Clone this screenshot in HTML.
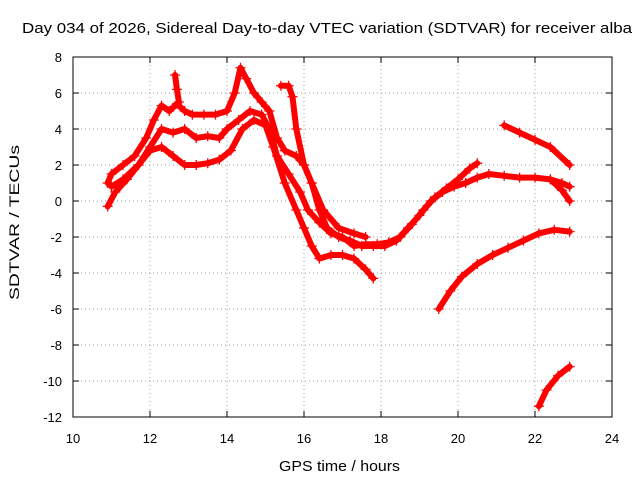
<!DOCTYPE html>
<html><head><meta charset="utf-8"><style>
body{margin:0;background:#fff;}
svg{display:block;font-family:"Liberation Sans",sans-serif;}
</style></head><body>
<svg id="chart" width="640" height="480">
<text x="22" y="33" font-size="15" textLength="610" lengthAdjust="spacingAndGlyphs">Day 034 of 2026, Sidereal Day-to-day VTEC variation (SDTVAR) for receiver alba</text>
<text x="279" y="471" font-size="15" textLength="121" lengthAdjust="spacingAndGlyphs">GPS time / hours</text>
<text x="0" y="0" font-size="14" textLength="155" lengthAdjust="spacingAndGlyphs" transform="translate(19 300) rotate(-90)">SDTVAR / TECUs</text>
<g id="grid"></g><g id="ticks"></g><g id="series"></g>
<rect x="73" y="57" width="539" height="360" fill="none" stroke="#000" stroke-width="1"/>
</svg>
<script>
const xTicks=[10,12,14,16,18,20,22,24];
const yTicks=[8,6,4,2,0,-2,-4,-6,-8,-10,-12];
const trackA_t=[10.9,11.0,11.3,11.6,11.9,12.1,12.3,12.5,12.7,12.9,13.1,13.4,13.7,14.0,14.2,14.35,14.5,14.7,14.9,15.1,15.3,15.5,15.8,16.0,16.2,16.4,16.6,16.9,17.2,17.5,17.8,18.1,18.4,18.7,19.0,19.3,19.6,19.9,20.2,20.5,20.8,21.2,21.6,22.0,22.4,22.7,22.9];
const trackA_v=[1.0,1.5,2.0,2.5,3.5,4.5,5.3,5.0,5.4,5.0,4.8,4.8,4.8,5.0,6.0,7.4,6.8,6.0,5.5,5.0,3.5,2.8,2.5,2.0,1.0,-0.5,-1.5,-2.0,-2.2,-2.5,-2.5,-2.5,-2.2,-1.5,-0.8,0.0,0.5,0.8,1.0,1.3,1.5,1.4,1.3,1.3,1.2,1.0,0.8];
const trackB_t=[11.0,11.3,11.7,12.0,12.3,12.6,12.9,13.2,13.5,13.8,14.0,14.3,14.6,14.9,15.1,15.3,15.6,15.9,16.1,16.4,16.7,17.0,17.3,17.6,17.9,18.2,18.5,18.8,19.1,19.4,19.7,20.0,20.3,20.5];
const trackB_v=[0.8,1.2,2.0,3.0,4.0,3.8,4.0,3.5,3.6,3.5,4.0,4.5,5.0,4.8,4.0,2.5,1.5,0.5,-0.5,-1.2,-1.8,-2.0,-2.5,-2.4,-2.4,-2.3,-2.0,-1.3,-0.5,0.2,0.7,1.2,1.8,2.1];
const trackC_t=[10.9,11.1,11.4,11.7,12.0,12.3,12.6,12.9,13.2,13.5,13.8,14.1,14.4,14.7,15.0,15.2,15.5,15.8,16.0,16.2,16.4,16.7,17.0,17.3,17.6,17.8];
const trackC_v=[-0.3,0.5,1.2,2.0,2.8,3.0,2.5,2.0,2.0,2.1,2.3,2.8,4.0,4.5,4.2,3.0,1.0,-0.5,-1.5,-2.5,-3.2,-3.0,-3.0,-3.2,-3.8,-4.3];
const trackD_t=[15.4,15.6,15.7,15.8,16.0,16.2,16.5,16.9,17.3,17.6];
const trackD_v=[6.4,6.4,5.8,4.0,2.0,1.0,-0.5,-1.5,-1.8,-2.0];
const trackS_t=[12.65,12.7,12.75];
const trackS_v=[7.0,6.2,5.5];
const trackE_t=[21.2,21.6,22.0,22.4,22.9];
const trackE_v=[4.2,3.8,3.4,3.0,2.0];
const trackF_t=[19.5,19.8,20.1,20.5,20.9,21.3,21.7,22.1,22.5,22.9];
const trackF_v=[-6.0,-5.0,-4.2,-3.5,-3.0,-2.6,-2.2,-1.8,-1.6,-1.7];
const trackG_t=[22.1,22.3,22.6,22.9];
const trackG_v=[-11.4,-10.5,-9.7,-9.2];
const trackH_t=[22.4,22.7,22.9];
const trackH_v=[1.2,0.6,0.0];
const NS="http://www.w3.org/2000/svg";
const X=t=>73+(t-10)*539/14;
const Y=v=>57+(8-v)*18;
function mk(tag,attrs,parent){const e=document.createElementNS(NS,tag);for(const k in attrs)e.setAttribute(k,attrs[k]);parent.appendChild(e);return e;}
const grid=document.getElementById('grid'),ticks=document.getElementById('ticks'),ser=document.getElementById('series');
xTicks.forEach(t=>{
 if(t>10&&t<24){const l=mk('line',{x1:X(t),x2:X(t),y1:57,y2:417,stroke:'#a0a0a0','stroke-dasharray':'1,3'},grid);
 
 }
 const tx=mk('text',{x:X(t),y:443,'font-size':13,'text-anchor':'middle'},ticks);tx.textContent=t;
 
 
 mk('line',{x1:X(t),x2:X(t),y1:417,y2:411,stroke:'#000'},ticks);mk('line',{x1:X(t),x2:X(t),y1:57,y2:63,stroke:'#000'},ticks);
});
yTicks.forEach(v=>{
 if(v<8&&v>-12){const l=mk('line',{x1:73,x2:612,y1:Y(v),y2:Y(v),stroke:'#a0a0a0','stroke-dasharray':'1,3'},grid);
 
 }
 const tx=mk('text',{x:62,y:Y(v)+5,'font-size':13,'text-anchor':'end'},ticks);tx.textContent=v;
 
 
 mk('line',{x1:73,x2:79,y1:Y(v),y2:Y(v),stroke:'#000'},ticks);mk('line',{x1:612,x2:606,y1:Y(v),y2:Y(v),stroke:'#000'},ticks);
});
const tracks=[[trackA_t,trackA_v],[trackB_t,trackB_v],[trackC_t,trackC_v],[trackD_t,trackD_v],[trackS_t,trackS_v],[trackE_t,trackE_v],[trackF_t,trackF_v],[trackG_t,trackG_v],[trackH_t,trackH_v]];
tracks.forEach(([ts,vs],i)=>{
 const g=mk('g',{},ser);
 
 
 const pts=ts.map((t,j)=>X(t)+','+Y(vs[j])).join(' ');
 mk('polyline',{points:pts,fill:'none',stroke:'#ff0000','stroke-width':6,'stroke-linejoin':'round','stroke-linecap':'round'},g);
 ts.forEach((t,j)=>{const x=X(t),y=Y(vs[j]);
  mk('path',{d:`M${x-5},${y}H${x+5}M${x},${y-5}V${y+5}`,stroke:'#ff0000','stroke-width':1.3},g);});
});
</script>
</body></html>
